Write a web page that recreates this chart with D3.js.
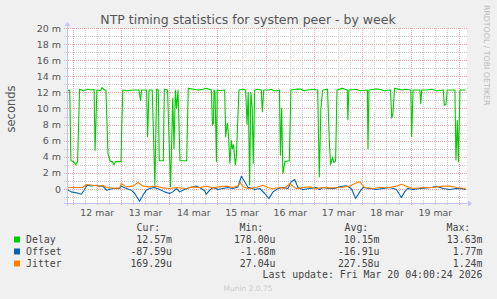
<!DOCTYPE html>
<html><head><meta charset="utf-8">
<script src="https://cdn.jsdelivr.net/npm/d3@7"></script>
<style>
html,body{margin:0;padding:0;background:#f0f0f0;}
svg{display:block;}
</style></head><body>
<svg id="c" width="497" height="299"></svg>
<script>
// ---------------- data ----------------
const title = "NTP timing statistics for system peer - by week";
const yLabel = "seconds";
const yMajorTicks = [0, 2, 4, 6, 8, 10, 12, 14, 16, 18, 20];       // ms
const yMinorTicks = [-1, 1, 3, 5, 7, 9, 11, 13, 15, 17, 19];       // ms
const dayLabels = ["12 mar", "13 mar", "14 mar", "15 mar", "16 mar", "17 mar", "18 mar", "19 mar"];
const seriesNames = ["Delay", "Offset", "Jitter"];
const seriesColors = ["#00CC00", "#0066B3", "#FF8000"];
const curVals = ["12.57m", "-87.59u", "169.29u"];
const minVals = ["178.00u", "-1.68m", "27.04u"];
const avgVals = ["10.15m", "-16.91u", "227.58u"];
const maxVals = ["13.63m", "1.77m", "1.24m"];
const lastUpdate = "Last update: Fri Mar 20 04:00:24 2026";

// [hours since 2026-03-12 00:00, milliseconds]
const delay = [[-2.75,12.2],[-1.4,12.3],[-0.8,3.5],[0.5,3.4],[1.7,3.0],[2.5,3.4],[3.5,12.4],[5.5,12.2],[7.5,12.4],[9.5,12.3],
[10.7,12.4],[11.2,4.8],[12.1,12.3],[14,12.2],[14.6,12.6],[16,12.3],[16.6,12.3],[17.6,4.4],[18.8,3.4],[19.8,3.4],
[20.6,3.0],[21.4,3.4],[24.1,3.4],[24.5,8.2],[25,12.3],[27,12.2],[30.4,12.3],[33,12.3],[33.8,11.0],[34.3,12.3],[36.8,12.3],
[37.3,6.5],[38,12.3],[39.6,12.3],[40.9,0.5],[41.8,12.4],[42.6,12.3],[43.1,3.5],[45.1,3.5],[45.6,12.4],[47.2,12.3],
[48.7,0.3],[49.8,11.3],[50.4,5.0],[51.1,12.3],[51.7,10.0],[52.4,12.3],[53.4,3.5],[56.7,3.5],[57.5,12.5],[60,12.4],[62.5,12.3],
[64.8,12.4],[66.5,12.5],[69,12.3],[69.5,7.9],[70,8.2],[70.3,12.3],[70.8,12.0],[71.5,3.4],[71.9,12.3],[73.5,12.2],[75.6,12.3],
[76.1,6.5],[76.9,8.2],[77.4,7.0],[78.2,3.2],[78.9,6.0],[79.4,5.0],[80,5.5],[80.9,3.0],[81.4,4.0],[82.7,12.3],
[84.7,12.4],[86,12.3],[86.7,8.0],[87.3,12.0],[88,0.5],[88.6,12.0],[89.3,10.0],[89.8,3.2],[90.5,12.3],[92,12.4],[93.8,12.3],
[94.3,9.6],[95,12.3],[97.9,12.3],[98.6,12.4],[100,12.2],[101.9,12.2],[102.8,12.3],[103.3,4.2],[103.9,10.0],[104.5,1.9],
[105.5,3.4],[107.7,3.5],[108.5,12.3],[111,12.4],[113.5,12.4],[115,12.2],[116.8,12.3],[119,12.4],[121.8,12.3],[122.6,1.5],[123.4,10.0],
[124.3,12.3],[126.7,12.4],[127.6,6.0],[128.2,3.0],[129.2,4.0],[129.8,3.3],[130.7,3.4],[131.4,12.3],[134.1,12.5],
[136.5,12.3],[136.8,8.6],[137.3,12.3],[140.7,12.4],[143,12.2],[146.5,12.3],[146.8,5.0],[147.3,12.3],[150,12.4],[152.3,12.4],[155,12.2],
[158,12.3],[158.6,8.8],[159.2,9.4],[160,12.5],[163.9,12.3],[165.2,12.4],[168.1,12.3],[168.5,6.5],[169.2,12.3],
[172.6,12.3],[173,10.6],[173.5,12.3],[176,12.3],[178.4,12.4],[181,12.2],[184.2,12.3],[184.7,10.4],[185.5,10.5],[186.2,12.3],
[190,12.3],[190.5,3.6],[191.2,8.5],[191.7,3.4],[192.5,12.3],[195.3,12.3]];

const offset = [[-2.75,-0.07],[-0.6,-0.36],[1.9,-0.48],[4.4,-0.65],[6,-0.07],[7.2,0.47],[9.3,0.36],[11.8,0.47],[13.5,0.35],[15.1,0.39],
[16.8,-0.15],[20.1,0.06],[23.4,0.06],[24.2,0.35],[26.7,0.06],[29.2,-0.15],[30.9,-0.56],[33.3,-1.52],[35,-0.77],[36.7,-0.15],
[38.3,0.06],[40.8,0.18],[43.3,-0.07],[45.8,-0.36],[48.2,-0.56],[49.9,-0.36],[51.6,0.06],[53.2,-0.36],[55.7,-0.07],[58.2,0.18],
[61.5,0.35],[63.2,0.18],[65.6,-0.23],[66.5,-0.65],[68.1,-0.15],[69.8,0.18],[72.2,-0.07],[74.7,0.06],[77.2,0.18],[79.7,0.06],
[82.2,0.26],[83.9,1.59],[85.5,0.89],[87.2,0.18],[88,0.18],[90.5,-0.07],[93,0.06],[95.5,-0.56],[97.6,-1.19],[99.6,-0.36],
[102.1,0.06],[104.5,0.18],[107,0.06],[108.7,0.89],[110.4,1.18],[112,0.18],[114.5,-0.07],[117.8,0.06],[121.1,0.18],[122.7,-0.07],
[124.4,0.18],[127.7,0.06],[130.2,0.06],[132.7,0.26],[136,0.39],[138.5,0.06],[140.7,-1.19],[142.7,-0.36],[144.3,0.18],[147.6,0.06],
[151,-0.07],[154.2,0.06],[157.6,0.18],[160.9,-0.07],[163.4,-1.06],[165,-0.36],[166.6,0.06],[169.1,-0.07],[172.5,0.06],[178.3,0.18],
[180.8,0.35],[184.1,0.06],[187.4,-0.07],[190.7,0.06],[194,0.04],[195.3,-0.09]];

const jitter = [[-2.75,0.18],[5,0.18],[6.9,0.56],[10.1,0.47],[13.5,0.35],[15.1,0.47],[16.8,0.18],[20.1,0.10],[23.4,0.14],[24.2,0.68],
[26.7,0.26],[30,0.35],[32.5,0.80],[35,0.35],[38.3,0.26],[41.6,0.35],[44.9,0.14],[48.2,0.06],[51.6,0.18],[56.5,0.06],
[59.8,0.26],[63.2,0.18],[66.5,0.35],[69.8,0.14],[73.1,0.26],[76.4,0.35],[79.7,0.18],[82.2,0.39],[83.4,0.80],[84.7,0.26],
[87.2,0.06],[91.3,0.18],[94.6,0.47],[97.1,0.18],[99.6,0.03],[102.9,0.18],[105.4,0.06],[107.9,0.68],[109.5,0.35],[111.2,0.06],
[114.5,0.18],[117.8,0.26],[121.1,0.06],[124.4,0.18],[127.7,0.14],[132.7,0.18],[137.7,0.35],[140.2,0.68],[142.7,0.89],[145.2,0.18],
[149.3,0.06],[152.6,0.18],[157.6,0.18],[160.9,0.35],[163.4,0.60],[165.9,0.35],[169.1,0.06],[174.1,0.18],[179.1,0.18],[184.1,0.35],
[187.4,0.35],[190.7,0.18],[194.8,0.06],[195.3,0.17]];

// ---------------- chart ----------------
const svg = d3.select("#c");
const T0 = Date.UTC(2026, 2, 12);
const H = 3600e3;
const L = 67, R = 467, TOP = 28, BOT = 202.5;
const x = d3.scaleUtc().domain([new Date(T0 - 2.75 * H), new Date(T0 + 196 * H)]).range([L, R]);
const y = d3.scaleLinear().domain([-1.68, 20]).range([BOT, TOP]);
const px = v => Math.round(v) + 0.5;

const textCol = "#555";
const sans = "DejaVu Sans, sans-serif";
const mono = "DejaVu Sans Mono, monospace";

svg.append("rect").attr("width", 497).attr("height", 299).attr("fill", "#f0f0f0");
svg.append("rect").attr("x", L).attr("y", TOP).attr("width", R - L).attr("height", BOT - TOP).attr("fill", "#fff");

const minorCol = "#cccccc", majorCol = "#eeaaaa";
const grid = svg.append("g").attr("shape-rendering", "crispEdges");
// horizontal grid
yMinorTicks.forEach(v => grid.append("line").attr("x1", L - 3).attr("x2", R).attr("y1", px(y(v))).attr("y2", px(y(v)))
  .attr("stroke", minorCol).attr("stroke-dasharray", "1,1"));
yMajorTicks.forEach(v => grid.append("line").attr("x1", L - 3).attr("x2", R).attr("y1", px(y(v))).attr("y2", px(y(v)))
  .attr("stroke", majorCol).attr("stroke-dasharray", "1,1"));
// vertical grid
const sixHours = d3.utcHour.every(6).range(x.domain()[0], x.domain()[1]);
sixHours.forEach(d => {
  const major = d.getUTCHours() === 0;
  grid.append("line").attr("x1", px(x(d))).attr("x2", px(x(d))).attr("y1", TOP).attr("y2", BOT + 3)
    .attr("stroke", major ? majorCol : minorCol).attr("stroke-dasharray", "1,1");
});

// axes (labels via d3 axes)
const yAxis = d3.axisLeft(y).tickValues(yMajorTicks).tickSize(0).tickPadding(6)
  .tickFormat(v => v === 0 ? "0" : v + " m");
const gy = svg.append("g").attr("transform", `translate(${L},0)`).call(yAxis);
gy.select(".domain").remove();
gy.selectAll("text").attr("font-family", sans).attr("font-size", 9.5).attr("fill", textCol);

const noon = dayLabels.map((s, i) => new Date(T0 + (i * 24 + 12) * H));
const xAxis = d3.axisBottom(x).tickValues(noon).tickSize(0).tickPadding(7)
  .tickFormat((d, i) => dayLabels[i]);
const gx = svg.append("g").attr("transform", `translate(0,${BOT})`).call(xAxis);
gx.select(".domain").remove();
gx.selectAll("text").attr("font-family", sans).attr("font-size", 9.4).attr("fill", textCol);

// series lines
const clip = svg.append("clipPath").attr("id", "pc").append("rect")
  .attr("x", L).attr("y", TOP - 2).attr("width", R - L).attr("height", BOT - TOP + 2);
const line = d3.line().x(d => x(new Date(T0 + d[0] * H))).y(d => y(d[1]));
const g = svg.append("g").attr("clip-path", "url(#pc)");
[delay, offset, jitter].forEach((s, i) => {
  g.append("path").attr("d", line(s)).attr("fill", "none").attr("stroke", seriesColors[i]).attr("stroke-width", 1.1)
    .attr("stroke-linejoin", "round");
});

// axis lines with arrows
const axCol = "#c4c4f4";
svg.append("line").attr("x1", L - 3).attr("x2", R + 2).attr("y1", px(BOT)).attr("y2", px(BOT)).attr("stroke", axCol).attr("shape-rendering", "crispEdges");
svg.append("path").attr("d", `M${R + 1},${px(BOT) - 3}L${R + 5},${px(BOT)}L${R + 1},${px(BOT) + 3}Z`).attr("fill", axCol);
svg.append("line").attr("x1", px(L)).attr("x2", px(L)).attr("y1", BOT + 3).attr("y2", TOP - 3).attr("stroke", axCol).attr("shape-rendering", "crispEdges");
svg.append("path").attr("d", `M${px(L) - 3},${TOP - 2}L${px(L)},${TOP - 6}L${px(L) + 3},${TOP - 2}Z`).attr("fill", axCol);

// title & labels
svg.append("text").attr("x", 248).attr("y", 24).attr("text-anchor", "middle").attr("font-family", sans)
  .attr("font-size", 12.5).attr("fill", textCol).text(title);
svg.append("text").attr("transform", "translate(15,109) rotate(-90)").attr("text-anchor", "middle")
  .attr("font-family", sans).attr("font-size", 11.5).attr("fill", textCol).text(yLabel);
svg.append("text").attr("transform", "translate(484,5) rotate(90)").attr("text-anchor", "start")
  .attr("font-family", sans).attr("font-size", 7.8).attr("fill", "#bbb").text("RRDTOOL / TOBI OETIKER");

// legend
const lg = svg.append("g").attr("font-family", mono).attr("font-size", 9.9).attr("fill", "#444");
const hdrY = 230.5, rowY = [242.5, 254.5, 266.5];
[["Cur:", 136.5], ["Min:", 239.5], ["Avg:", 344.5], ["Max:", 446.5]].forEach(([t, xx]) =>
  lg.append("text").attr("x", xx).attr("y", hdrY).text(t));
const colEnds = [172, 275.5, 379.5, 482.5];
const cols = [curVals, minVals, avgVals, maxVals];
seriesNames.forEach((n, i) => {
  lg.append("rect").attr("x", 14).attr("y", rowY[i] - 6).attr("width", 6).attr("height", 6).attr("fill", seriesColors[i]);
  lg.append("text").attr("x", 26).attr("y", rowY[i]).text(n);
  cols.forEach((c, j) => lg.append("text").attr("x", colEnds[j]).attr("y", rowY[i]).attr("text-anchor", "end").text(c[i]));
});
lg.append("text").attr("x", 482.5).attr("y", 278.3).attr("text-anchor", "end").text(lastUpdate);
svg.append("text").attr("x", 248).attr("y", 290.5).attr("text-anchor", "middle").attr("font-family", sans)
  .attr("font-size", 7.5).attr("fill", "#ccc").text("Munin 2.0.75");
</script>
</body></html>
